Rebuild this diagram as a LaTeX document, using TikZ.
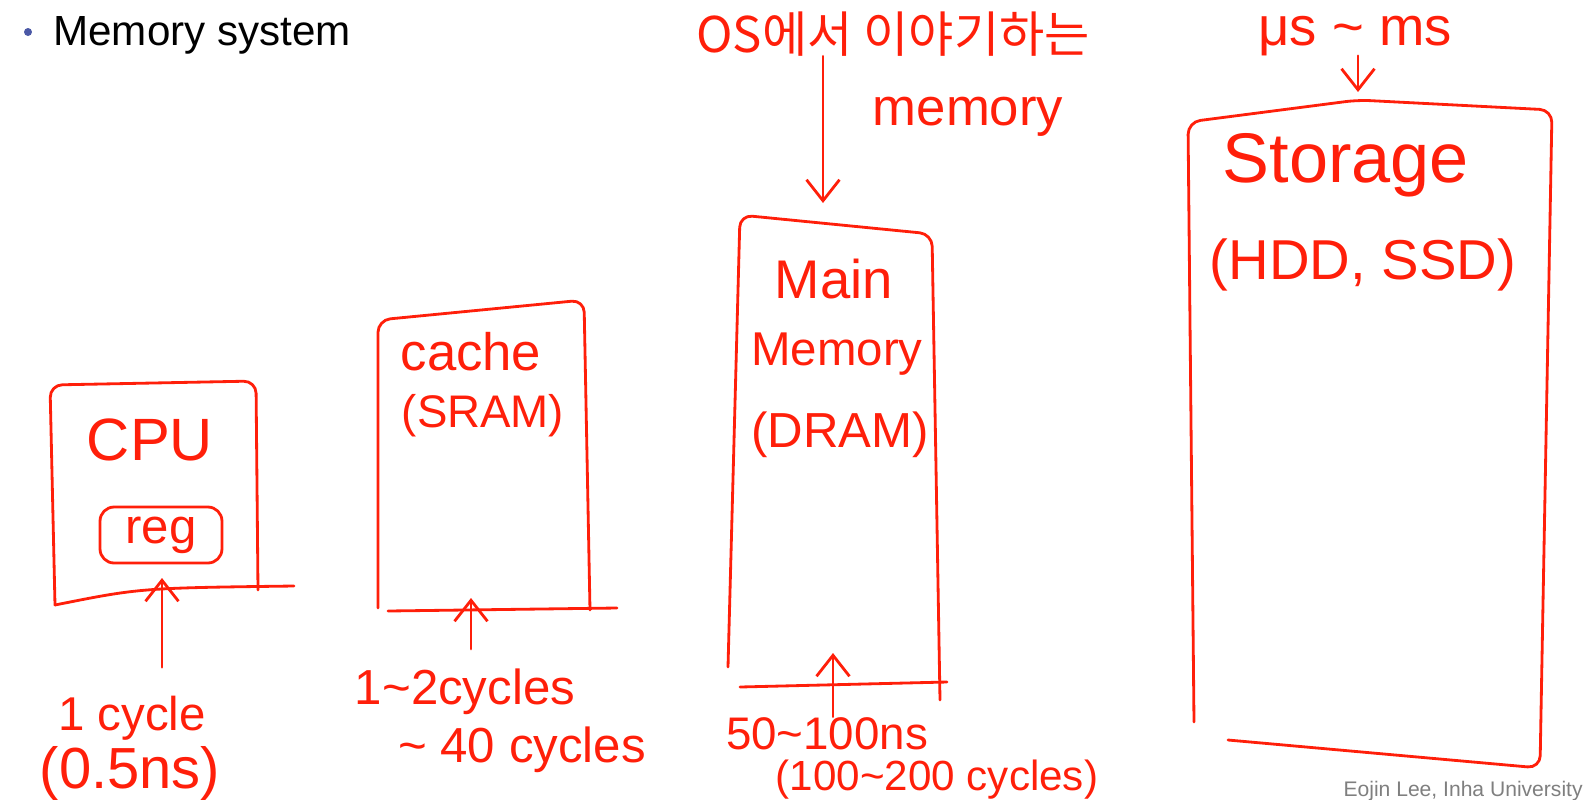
\documentclass[tikz,border=0pt]{standalone}
\usepackage{fontspec}
\setmainfont{Liberation Sans}
\newfontfamily\krfont{Noto Sans CJK KR}
\usetikzlibrary{arrows.meta,calc}
\definecolor{mhred}{HTML}{FF1F0A}
\definecolor{mhink}{HTML}{000000}
\definecolor{mhbullet}{HTML}{4B58A6}
\definecolor{mhgrey}{HTML}{7F7F7F}
\newcommand{\mhtl}{\textasciitilde}
\tikzset{
  mh hand/.style={font=\fontsize{#1}{#1}\selectfont, text=mhred, inner sep=0pt, anchor=base},
  mh line/.style={draw=mhred, line width=1.6pt, line cap=round, line join=round},
  mh box/.style={mh line, rounded corners=7pt},
  mh arrow/.style={mh line, -{Straight Barb[length=4.2mm,width=6.6mm]}},
  mh title/.style={font=\fontsize{24}{24}\selectfont, text=mhink, inner sep=0pt, anchor=base west},
  mh credit/.style={font=\fontsize{12}{12}\selectfont, text=mhgrey, inner sep=0pt, anchor=base east}
}

\begin{document}
\begin{tikzpicture}[x=0.02cm, y=-0.02cm]
  \useasboundingbox (0,0) rectangle (1589,799);
  % heading and credit
  \node[circle, fill=mhbullet, inner sep=0pt, minimum size=0.16cm] (bullet) at (28,32) {};
  \node[mh title] (title) at (53,45) {Memory system};
  \node[mh credit] (credit) at (1583,796) {Eojin Lee, Inha University};

  % CPU
  \draw[mh box] (55,605) -- (50,385) -- (256,381) -- (258,590);
  \draw[mh line] (55,605) .. controls (140,588) .. (294,586);
  \node[mh hand=34] (cpu) at (150,460) {CPU};
  \node[mh hand=28, anchor=center, draw=mhred, line width=1.6pt, rounded corners=8pt,
    minimum width=2.44cm, minimum height=1.12cm] (reg) at (161,535) {reg};
  \coordinate (cpu tip) at (162,578);
  \node[mh hand=27] (cyc1) at (132,730) {1 cycle};
  \node[mh hand=33] (ns05) at (130,788) {(0.5ns)};
  \draw[mh arrow] (cyc1.north -| cpu tip) ++(0,-28) -- (cpu tip);

  % cache
  \draw[mh box] (378,608) -- (378,320) -- (584,300) -- (590,610);
  \draw[mh line] (388,611) -- (617,608);
  \node[mh hand=30] (cache) at (471,370) {cache};
  \node[mh hand=26] (sram) at (483,427) {(SRAM)};
  \coordinate (cache tip) at (471,598);
  \node[mh hand=28] (cyc2) at (465,704) {1\mhtl2cycles};
  \node[mh hand=28] (cyc40) at (522,762) {\mhtl{} 40 cycles};
  \draw[mh arrow] (cyc2.north -| cache tip) ++(0,-19) -- (cache tip);

  % main memory
  \draw[mh box] (728,667) -- (740,215) -- (932,234) -- (940,700);
  \draw[mh line] (740,687) -- (947,682);
  \node[mh hand=31] (main) at (834,298) {Main};
  \node[mh hand=27] (memory) at (837,365) {Memory};
  \node[mh hand=28] (dram) at (840,447) {(DRAM)};
  \coordinate (dram tip) at (833,653);
  \node[mh hand=26] (ns50) at (827,749) {50\mhtl100ns};
  \node[mh hand=24] (cyc200) at (937,790) {(100\mhtl200 cycles)};
  \draw[mh arrow] (ns50.north -| dram tip) -- (dram tip);
  \node[mh hand=28, font=\krfont\fontsize{28}{28}\selectfont] (oslab) at (893,52) {OS에서 이야기하는};
  \node[mh hand=30] (osmem) at (968,125) {memory};
  \coordinate (os tip) at (823,203);
  \draw[mh arrow] (oslab.south -| os tip) -- (os tip);

  % storage
  \draw[mh box] (1194,722) -- (1188,122) -- (1358,100) -- (1552,110) -- (1540,768) -- (1228,740);
  \node[mh hand=40] (storage) at (1346,182) {Storage};
  \node[mh hand=32] (hddssd) at (1363,279) {(HDD, SSD)};
  \coordinate (stor tip) at (1358,92);
  \node[mh hand=31] (usms) at (1355,45) {μs \mhtl{} ms};
  \draw[mh arrow] (usms.south -| stor tip) -- (stor tip);
\end{tikzpicture}
\end{document}
